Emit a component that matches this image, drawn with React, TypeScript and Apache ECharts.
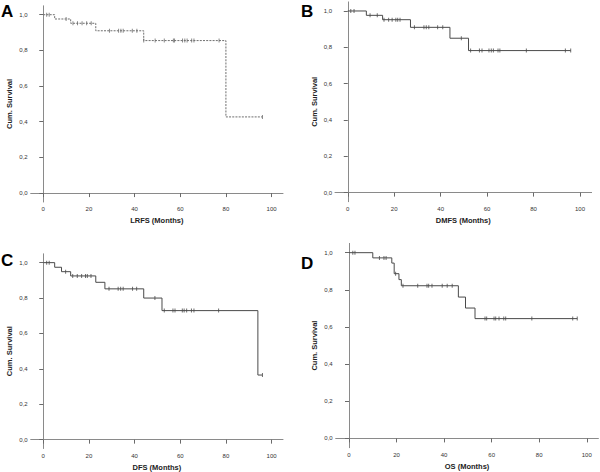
import React, { useEffect, useRef } from "react";
import * as echarts from "echarts";

// ---- Data ----
const xTicks = [0, 20, 40, 60, 80, 100];
const yTicks = [0, 0.2, 0.4, 0.6, 0.8, 1.0];

// A: LRFS
const lrfsTimes = [0, 5, 12, 23, 44, 80, 96];
const lrfsSurv = [1.0, 0.976, 0.952, 0.91, 0.855, 0.427, 0.427];
const lrfsCensor = [1.5, 2.6, 10, 13, 15, 17, 19, 21, 29, 33, 34, 35, 39, 41, 44, 49, 53, 57, 57.5, 61, 62, 63, 65, 66, 77, 96];

// B: DMFS
const dmfsTimes = [0, 8, 15, 27, 44, 52, 96];
const dmfsSurv = [1.0, 0.976, 0.952, 0.91, 0.85, 0.782, 0.782];
const dmfsCensor = [1.3, 2.7, 9.6, 12.7, 15.6, 17.6, 19.1, 20.7, 21.5, 22.5, 28.7, 32.8, 33.8, 34.9, 38.7, 40.9, 48.9, 52.9, 56.7, 57.8, 60.8, 61.8, 62.7, 64.7, 65.5, 76.9, 93.7, 96];

// C: DFS
const dfsTimes = [0, 5, 8, 12, 23, 27, 44, 52, 94, 96];
const dfsSurv = [1.0, 0.974, 0.949, 0.925, 0.889, 0.852, 0.8, 0.729, 0.365, 0.365];
const dfsCensor = [1.5, 2.6, 9.8, 12.9, 14.9, 16.8, 18.5, 19.3, 20.9, 28.8, 32.8, 33.9, 35, 39.1, 40.9, 48.9, 53, 56.8, 57.7, 60.9, 61.7, 62.8, 64.9, 66, 76.8, 96];

// D: OS
const osTimes = [0, 10, 18, 19, 21, 22, 46, 49, 53, 96];
const osSurv = [1.0, 0.972, 0.944, 0.887, 0.855, 0.822, 0.761, 0.702, 0.645, 0.645];
const osCensor = [1.6, 2.5, 12.8, 14.7, 15.6, 19.6, 22.7, 28.9, 32.8, 33.5, 34.9, 39.2, 41.3, 43.4, 57.2, 57.9, 61, 61.7, 63.1, 65.1, 65.9, 76.9, 94.1, 96];

const panelLetters = ["A", "B", "C", "D"];
const xTitles = ["LRFS (Months)", "DMFS (Months)", "DFS (Months)", "OS (Months)"];
const yTitle = "Cum. Survival";

function survAt(times: number[], surv: number[], t: number) {
  let v = surv[0];
  for (let i = 0; i < times.length; i++) {
    if (times[i] <= t) v = surv[i];
  }
  return v;
}

const FONT = "'Liberation Sans', Arial, sans-serif";

export default function App() {
  const ref = useRef<HTMLDivElement>(null);
  useEffect(() => {
    if (!ref.current) return;
    const chart = echarts.init(ref.current, undefined, { renderer: "svg" });

    const panels = [
      { times: lrfsTimes, surv: lrfsSurv, censor: lrfsCensor, dotted: true },
      { times: dmfsTimes, surv: dmfsSurv, censor: dmfsCensor, dotted: false },
      { times: dfsTimes, surv: dfsSurv, censor: dfsCensor, dotted: false },
      { times: osTimes, surv: osSurv, censor: osCensor, dotted: false },
    ];

    const grids = [
      { left: 30.7, top: 5.8, width: 252.3, height: 196.2, xmin: -5.5, xmax: 105 },
      { left: 335, top: 1.9, width: 256.6, height: 199.8, xmin: -5.5, xmax: 105 },
      { left: 30.7, top: 253.8, width: 252.3, height: 195.5, xmin: -5.5, xmax: 105 },
      { left: 335.7, top: 243.4, width: 262.7, height: 204.3, xmin: -5.6, xmax: 104.9 },
    ];

    const axisLine = { show: true, lineStyle: { color: "#8a8a8a", width: 1 } };
    const axisTick = (vals: number[]) => ({
      show: true,
      length: 4,
      inside: false,
      customValues: vals,
      lineStyle: { color: "#6a6a6a", width: 1 },
    });

    const series: any[] = [];
    panels.forEach((p, i) => {
      const col = p.dotted ? "#6e6e6e" : "#4a4a4a";
      series.push({
        type: "line",
        xAxisIndex: i,
        yAxisIndex: i,
        step: "end",
        symbol: "none",
        data: p.times.map((t, k) => [t, p.surv[k]]),
        lineStyle: { color: col, width: 1, type: p.dotted ? [2, 1.2] : "solid" },
        silent: true,
      });
      series.push({
        type: "scatter",
        xAxisIndex: i,
        yAxisIndex: i,
        symbol: "rect",
        symbolSize: [1, 4],
        itemStyle: { color: col },
        data: p.censor.map((t) => [t, survAt(p.times, p.surv, t)]),
        silent: true,
      });
    });

    const option: any = {
      animation: false,
      backgroundColor: "#ffffff",
      textStyle: { fontFamily: FONT },
      grid: grids.map((g) => ({
        left: g.left,
        top: g.top,
        width: g.width,
        height: g.height,
        containLabel: false,
      })),
      xAxis: grids.map((g, i) => ({
        type: "value",
        gridIndex: i,
        min: g.xmin,
        max: g.xmax,
        axisLine,
        axisTick: axisTick(xTicks),
        splitLine: { show: false },
        axisLabel: {
          customValues: xTicks,
          fontSize: 6,
          color: "#333",
          margin: 4,
          fontFamily: FONT,
        },
        name: xTitles[i],
        nameLocation: "middle",
        nameGap: 14.5,
        nameTextStyle: { fontSize: 7.5, fontWeight: "bold", color: "#222", fontFamily: FONT },
      })),
      yAxis: grids.map((g, i) => ({
        type: "value",
        gridIndex: i,
        min: -0.05,
        max: 1.05,
        axisLine,
        axisTick: axisTick(yTicks),
        splitLine: { show: false },
        axisLabel: {
          customValues: yTicks,
          fontSize: 6,
          color: "#333",
          margin: 3,
          fontFamily: FONT,
          formatter: (v: number) => v.toFixed(1).replace(".", ","),
        },
        name: yTitle,
        nameLocation: "middle",
        nameGap: 17,
        nameRotate: 90,
        nameTextStyle: { fontSize: 7.5, fontWeight: "bold", color: "#222", fontFamily: FONT },
      })),
      graphic: [
        { x: 1, y: 3 },
        { x: 301, y: 3 },
        { x: 1, y: 252 },
        { x: 301, y: 255 },
      ].map((pos, i) => ({
        type: "text",
        x: pos.x,
        y: pos.y,
        style: {
          text: panelLetters[i],
          fontSize: 17,
          fontWeight: "bold",
          fill: "#000",
          fontFamily: FONT,
        },
      })),
      series,
    };

    chart.setOption(option);
    return () => chart.dispose();
  }, []);

  return (
    <div
      ref={ref}
      style={{ position: "fixed", left: 0, top: 0, width: 600, height: 472, background: "#fff" }}
    />
  );
}
